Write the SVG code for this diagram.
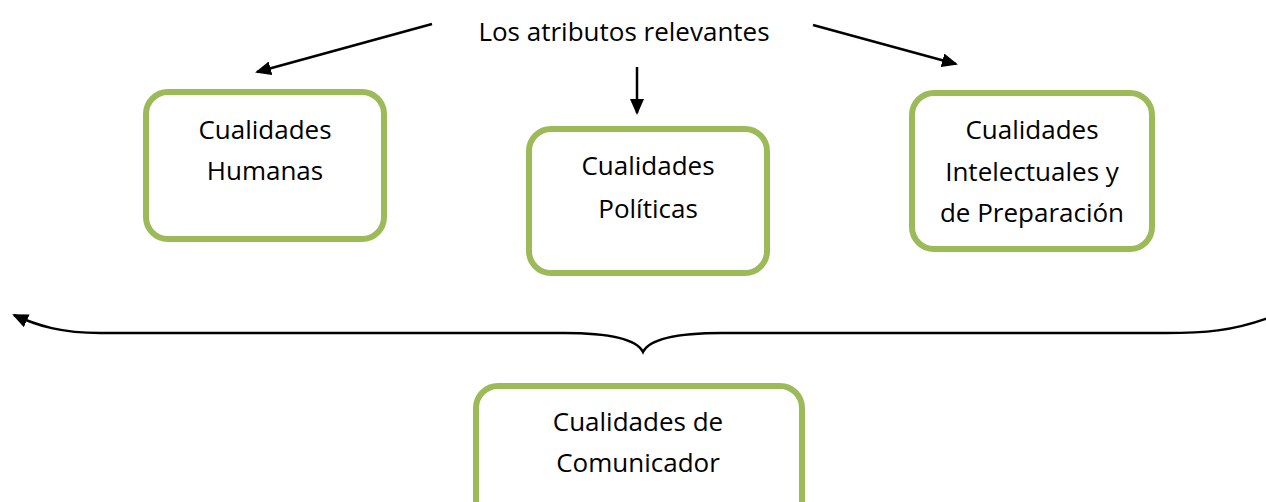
<svg xmlns="http://www.w3.org/2000/svg" width="1266" height="502" viewBox="0 0 1266 502">
  <style>
    .box { fill: #ffffff; stroke: #9BBB59; stroke-width: 6; }
    .lbl { font-family: "Open Sans", "Liberation Sans", sans-serif; font-size: 26px; fill: #000000; text-anchor: middle; }
    .conn { fill: none; stroke: #000000; stroke-width: 2.5; }
  </style>
  <defs>
    <marker id="arrow" viewBox="0 0 16 14" refX="14" refY="7" markerWidth="16" markerHeight="14" markerUnits="userSpaceOnUse" orient="auto">
      <path d="M0,0 L16,7 L0,14 z" fill="#000000"/>
    </marker>
  </defs>
  <rect width="1266" height="502" fill="#ffffff"/>

  <g id="title">
    <text class="lbl" x="624" y="41">Los atributos relevantes</text>
  </g>

  <g id="humanas">
    <rect class="box" x="146" y="92" width="238" height="147" rx="22" ry="22"/>
    <text class="lbl" x="265" y="139">Cualidades</text>
    <text class="lbl" x="265" y="180">Humanas</text>
  </g>

  <g id="politicas">
    <rect class="box" x="529" y="129" width="238" height="144" rx="22" ry="22"/>
    <text class="lbl" x="648" y="175">Cualidades</text>
    <text class="lbl" x="648" y="218">Políticas</text>
  </g>

  <g id="intelectuales">
    <rect class="box" x="912" y="93" width="240" height="156" rx="22" ry="22"/>
    <text class="lbl" x="1032" y="139">Cualidades</text>
    <text class="lbl" x="1032" y="181">Intelectuales y</text>
    <text class="lbl" x="1032" y="222">de Preparación</text>
  </g>

  <g id="comunicador">
    <rect class="box" x="476" y="386" width="326" height="140" rx="22" ry="22"/>
    <text class="lbl" x="638" y="431">Cualidades de</text>
    <text class="lbl" x="638" y="472">Comunicador</text>
  </g>

  <g id="connectors">
    <line class="conn" x1="432" y1="24" x2="257" y2="72" marker-end="url(#arrow)"/>
    <line class="conn" x1="637" y1="67" x2="637" y2="113" marker-end="url(#arrow)"/>
    <line class="conn" x1="813" y1="25" x2="956" y2="64" marker-end="url(#arrow)"/>
    <path class="conn" d="M1268,318 C1232,331 1205,333 1165,333 L722,333 C680,333 650,338 643,352 C636,338 606,333 564,333 L100,333 C62,333 38,326 14,315" marker-end="url(#arrow)"/>
  </g>
</svg>
